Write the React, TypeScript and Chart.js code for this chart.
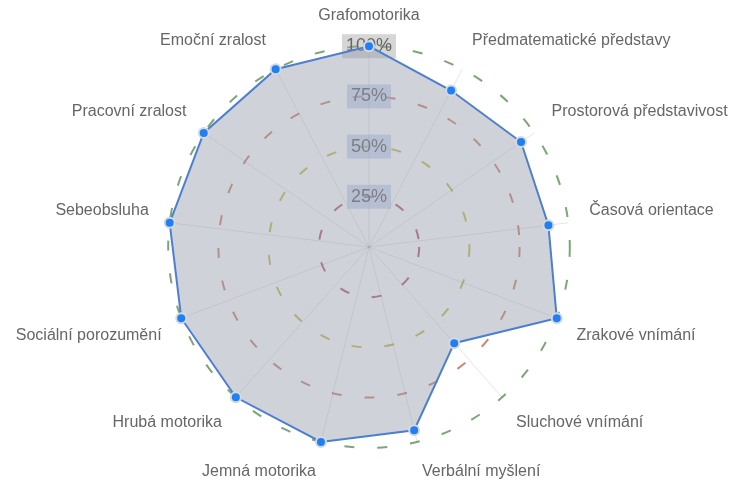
import React, { useEffect, useRef } from "react";
import { Chart, registerables } from "chart.js";

Chart.register(...registerables);

const categories = [
  "Grafomotorika",
  "Předmatematické představy",
  "Prostorová představivost",
  "Časová orientace",
  "Zrakové vnímání",
  "Sluchové vnímání",
  "Verbální myšlení",
  "Jemná motorika",
  "Hrubá motorika",
  "Sociální porozumění",
  "Sebeobsluha",
  "Pracovní zralost",
  "Emoční zralost",
];

const values = [100, 88, 92, 90, 100, 64, 94, 100, 100, 100, 100, 100, 100];

const tickValues = [25, 50, 75, 100];
const ringColors = [
  "rgba(0,0,0,0)",
  "rgb(180,95,115)",
  "rgb(195,190,80)",
  "rgb(205,135,115)",
  "rgb(125,165,120)",
];

export default function App() {
  const ref = useRef<HTMLCanvasElement | null>(null);

  useEffect(() => {
    if (!ref.current) return;
    const chart = new Chart(ref.current, {
      type: "radar",
      data: {
        labels: categories,
        datasets: [
          {
            data: values,
            backgroundColor: "rgba(150,155,172,0.45)",
            borderColor: "#4d7fcf",
            borderWidth: 2,
            pointBackgroundColor: "#1f80f5",
            pointBorderColor: "rgba(215,216,222,1)",
            pointBorderWidth: 2,
            pointRadius: 5,
          },
        ],
      },
      options: {
        animation: false,
        responsive: true,
        maintainAspectRatio: false,
        layout: { padding: { top: 3, bottom: 5, left: 0, right: 0 } },
        plugins: { legend: { display: false }, tooltip: { enabled: false } },
        scales: {
          r: {
            min: 0,
            max: 100,
            afterBuildTicks: (scale: any) => {
              scale.ticks = [0, ...tickValues].map((v) => ({ value: v }));
            },
            ticks: {
              stepSize: 25,
              callback: (v: any) => (v === 0 ? "" : v + "%"),
              color: "#666",
              font: { size: 18, family: "'Liberation Sans', Arial, sans-serif" },
              showLabelBackdrop: true,
              backdropColor: (ctx: any) =>
                ctx.index === 4 ? "rgba(165,165,165,0.45)" : "rgba(150,180,225,0.45)",
              backdropPadding: { x: 4, y: 3 },
            },
            grid: {
              circular: true,
              color: (ctx: any) => ringColors[ctx.index] || "#999",
              lineWidth: 2,
            },
            border: { dash: [10, 23] },
            angleLines: { color: "rgba(0,0,0,0.1)", lineWidth: 1 },
            pointLabels: {
              color: "#666",
              padding: 9,
              font: { size: 16, family: "'Liberation Sans', Arial, sans-serif" },
            },
          },
        },
      },
    });
    return () => chart.destroy();
  }, []);

  return (
    <div style={{ position: "fixed", left: 0, top: 0, width: 732, height: 483, overflow: "hidden" }}>
      <div style={{ width: 744, height: 490, position: "relative" }}>
        <canvas ref={ref} />
      </div>
    </div>
  );
}
